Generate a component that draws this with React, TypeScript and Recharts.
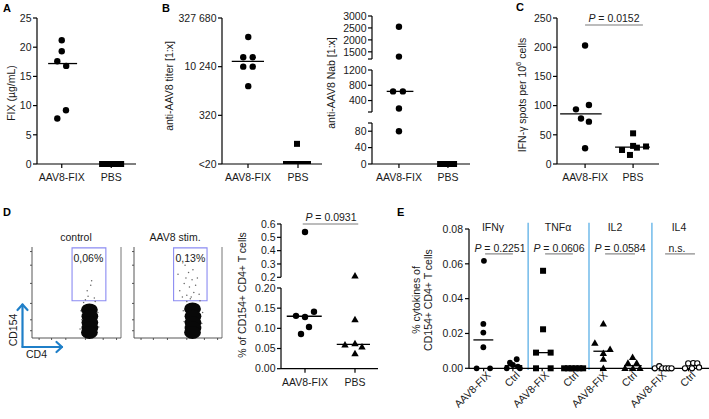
import React from 'react';
import { ScatterChart, Scatter, XAxis, YAxis, ReferenceLine, ReferenceArea } from 'recharts';

const FONT = '"Liberation Sans", Arial, Helvetica, sans-serif';

// ---------- shared categories ----------
const abGroups = ['AAV8-FIX', 'PBS'];
const eGroups = ['AAV8-FIX', 'Ctrl', 'AAV8-FIX', 'Ctrl', 'AAV8-FIX', 'Ctrl', 'AAV8-FIX', 'Ctrl'];
const eCytokines = ['IFNγ', 'TNFα', 'IL2', 'IL4'];

// ---------- Panel A: FIX (µg/mL) ----------
const fixAavY = [21.2, 19.3, 17.6, 16.8, 9.2, 7.8];
const fixAavX = [1.0, 1.0, 0.82, 1.18, 1.17, 0.82];
const fixPbsY = [0, 0, 0, 0, 0, 0];
const fixPbsX = [2.63, 2.79, 2.95, 3.11, 3.27, 3.4];
const fixMedian = 17.2;

// ---------- Panel B left: anti-AAV8 titer ----------
const titerTicks = [10, 320, 10240, 327680];
const titerAavY = [85000, 20000, 20000, 10240, 10240, 2560];
const titerAavX = [1.01, 0.81, 1.19, 0.81, 1.19, 1.01];
const titerPbsY = [42, 10, 10, 10, 10, 10];
const titerPbsX = [2.96, 2.52, 2.74, 2.96, 3.18, 3.4];
const titerMedian = 15000;

// ---------- Panel B right: anti-AAV8 Nab ----------
const nabAavY = [2550, 1300, 640, 640, 190, 80];
const nabAavX = [1.0, 1.0, 0.76, 1.16, 1.0, 1.0];
const nabPbsY = [0, 0, 0, 0, 0, 0];
const nabPbsX = [2.68, 2.8, 2.91, 3.02, 3.14, 3.25];
const nabMedian = 640;

// ---------- Panel C: IFN-γ spots ----------
const spotAavY = [203, 101, 93.6, 78, 72.5, 27];
const spotAavX = [1.0, 1.16, 0.62, 0.83, 1.16, 1.0];
const spotPbsY = [52.5, 24, 15.5, 28, 31, 30];
const spotPbsX = [3.0, 2.54, 2.87, 3.16, 3.0, 3.54];
const spotMedians = [85.8, 29];

// ---------- Panel D: flow plots ----------
const ctrlCloudX = [64.5, 65, 65, 65, 64.5];
const ctrlCloudY = [31, 24, 17, 11, 6];
const ctrlSparseX = [63, 62, 66, 70, 60, 67, 55, 74, 56, 73, 58, 71, 54, 75, 57, 72];
const ctrlSparseY = [46, 52, 58, 44, 42, 63, 30, 28, 20, 18, 39, 40, 10, 12, 3, 4];
const stimCloudX = [66.5, 67, 67, 67, 66.5];
const stimCloudY = [32, 24, 17, 11, 6];
const stimSparseX = [52, 57, 60, 63, 66, 68, 62, 58, 65, 70, 55, 72, 61, 64, 67, 59, 74, 50, 56, 78, 57, 77, 60, 75];
const stimSparseY = [52, 60, 47, 56, 64, 50, 72, 80, 45, 58, 45, 66, 90, 43, 75, 66, 48, 70, 30, 28, 18, 16, 40, 41];
const gatePct = ['0,06%', '0,13%'];

// ---------- Panel D: % CD154+ ----------
const cdAavY = [0.54, 0.131, 0.128, 0.141, 0.1035, 0.086];
const cdAavX = [1.0, 0.64, 1.0, 1.36, 1.16, 0.84];
const cdPbsY = [0.21, 0.1215, 0.059, 0.062, 0.054, 0.0374];
const cdPbsX = [3.0, 3.0, 2.6, 3.0, 3.28, 3.0];
const cdMedians = [0.13, 0.0605];

// ---------- Panel E: cytokines ----------
const ifnAavX = [0.51, 0.49, 0.49, 0.49, 0.26, 0.72];
const ifnAavY = [0.0617, 0.0255, 0.0205, 0.0121, 0, 0];
const ifnCtrlX = [1.29, 1.4, 1.5, 1.63, 1.67, 1.74];
const ifnCtrlY = [0, 0.0032, 0.0019, 0.0052, 0.001, 0];
const tnfAavX = [2.53, 2.53, 2.29, 2.79, 2.29, 2.79];
const tnfAavY = [0.056, 0.0224, 0.009, 0.009, 0, 0];
const tnfCtrlX = [3.25, 3.38, 3.51, 3.64, 3.77, 3.9];
const tnfCtrlY = [0, 0, 0, 0, 0, 0];
const il2AavX = [4.59, 4.3, 4.82, 4.59, 4.59, 4.59];
const il2AavY = [0.0255, 0.0144, 0.0109, 0.0086, 0.0053, 0];
const il2CtrlX = [5.59, 5.43, 5.73, 5.33, 5.6, 5.84];
const il2CtrlY = [0.0063, 0.0029, 0.0029, 0, 0, 0];
const il4AavX = [6.35, 6.5, 6.6, 6.72, 6.82, 6.92];
const il4AavY = [0, 0.0012, 0, 0, 0, 0];
const il4CtrlX = [7.38, 7.49, 7.62, 7.66, 7.8, 7.86];
const il4CtrlY = [0, 0.0028, 0, 0.003, 0.0028, 0.0005];
const eMedians = [0.0163, 0.0015, 0.009, 0, 0.0098, 0.0015, 0, 0.0005];

// ---------- helpers ----------
type Pt = { x: number; y: number };
const zip = (xs: number[], ys: number[]): Pt[] => xs.map((x, i) => ({ x, y: ys[i] }));
const inRange = (pts: Pt[], lo: number, hi: number) => pts.filter((p) => p.y >= lo && p.y <= hi);

const FS = 10.5;
const AX = { stroke: '#000', strokeWidth: 1.2 };
const TICK = { fontSize: FS, fill: '#1a1a1a', fontFamily: FONT };

const dot = (p: any) => <circle cx={p.cx} cy={p.cy} r={3.2} fill="#000" />;
const dotE = (p: any) => <circle cx={p.cx} cy={p.cy} r={2.9} fill="#000" />;
const openDot = (p: any) => <circle cx={p.cx} cy={p.cy} r={2.6} fill="#fff" stroke="#000" strokeWidth={1.1} />;
const square = (p: any) => <rect x={p.cx - 3} y={p.cy - 3} width={6} height={6} fill="#000" />;
const tri = (p: any) => (
  <polygon points={`${p.cx},${p.cy - 3.9} ${p.cx + 3.7},${p.cy + 2.6} ${p.cx - 3.7},${p.cy + 2.6}`} fill="#000" />
);
const blob = (p: any) => <ellipse cx={p.cx} cy={p.cy} rx={8.4} ry={6.4} fill="#080808" />;
const speck = (p: any) => <circle cx={p.cx} cy={p.cy} r={0.75} fill="#666" />;

function Box({ x, y, w, h, yw, mt = 8, mr = 8, xh = 0, children }: any) {
  const bottomPad = xh ? 0 : 8;
  return (
    <div style={{ position: 'absolute', left: x - yw, top: y - mt }}>
      <ScatterChart
        width={yw + w + mr}
        height={mt + h + (xh || 8)}
        margin={{ top: mt, right: mr, bottom: bottomPad, left: 0 }}
        style={{ overflow: 'visible' }}
      >
        {children}
      </ScatterChart>
    </div>
  );
}

const med = (x1: number, x2: number, y: number, key: string) => (
  <ReferenceLine
    key={key}
    segment={[{ x: x1, y }, { x: x2, y }]}
    stroke="#000"
    strokeWidth={1.3}
    ifOverflow="visible"
  />
);
const sig = (x1: number, x2: number, y: number, key: string) => (
  <ReferenceLine
    key={key}
    segment={[{ x: x1, y }, { x: x2, y }]}
    stroke="#7a7a7a"
    strokeWidth={1.1}
    ifOverflow="visible"
  />
);

const catTick = (centers: number[]) => (v: number) => {
  const i = centers.findIndex((c) => Math.abs(c - v) < 1e-6);
  return i >= 0 ? abGroups[i] : '';
};

const ETick = (props: any) => {
  const { x, y, payload, index } = props;
  return (
    <g transform={`translate(${x + 5},${y + 2})`}>
      <text x={0} y={0} dy="0.35em" textAnchor="end" transform="rotate(-45)" fontSize={FS} fill="#1a1a1a" fontFamily={FONT}>
        {eGroups[index] ?? payload.value}
      </text>
    </g>
  );
};

const titerLabel = (v: number) =>
  v === 10 ? '<20' : v >= 10000 ? v.toLocaleString('en-US').replace(/,/g, '\u00a0') : String(v);

function FlowPlot({ left, w, cloud, sparse }: any) {
  const ax = { stroke: '#444', strokeWidth: 0.9 };
  return (
    <Box x={left} y={247} w={w} h={91} yw={3} mt={3} mr={4} xh={4}>
      <XAxis type="number" dataKey="x" domain={[0, 100]} ticks={[8, 22, 38, 60, 80, 95]} tickFormatter={() => ''} axisLine={ax} tickLine={ax} tickSize={2} height={4} />
      <YAxis type="number" dataKey="y" domain={[0, 100]} ticks={[8, 20, 38, 60, 80, 95]} tickFormatter={() => ''} axisLine={ax} tickLine={ax} tickSize={2} width={3} />
      <ReferenceLine segment={[{ x: 100, y: 0 }, { x: 100, y: 100 }]} stroke="#666" strokeWidth={0.9} />
      <Scatter data={sparse} shape={speck} isAnimationActive={false} />
      <Scatter data={cloud} shape={blob} isAnimationActive={false} />
      <ReferenceArea x1={45} x2={83} y1={41} y2={99} stroke="#8b8bf2" strokeWidth={1.1} fill="none" fillOpacity={0} ifOverflow="visible" />
    </Box>
  );
}

export default function App() {
  const eCenters = [0.5, 1.5, 2.5, 3.5, 4.5, 5.5, 6.5, 7.5];
  const t = { fontFamily: FONT, fontSize: FS, fill: '#1a1a1a' } as any;
  const rot = (cx: number, cy: number, s: any, key: string) => (
    <text key={key} x={cx} y={cy} textAnchor="middle" dominantBaseline="central" transform={`rotate(-90 ${cx} ${cy})`} {...t}>
      {s}
    </text>
  );
  return (
    <div style={{ position: 'absolute', left: 0, top: 0, width: 709, height: 419, background: '#fff', overflow: 'hidden' }}>
      {/* Panel A */}
      <Box x={37} y={18} w={99} h={146} yw={37} mt={10} mr={6} xh={24}>
        <XAxis type="number" dataKey="x" domain={[0, 4]} ticks={[1, 3]} tickFormatter={catTick([1, 3])} axisLine={AX} tickLine={AX} tickSize={4} tickMargin={5.5} tick={TICK} height={24} interval={0} />
        <YAxis type="number" dataKey="y" domain={[0, 25]} ticks={[0, 5, 10, 15, 20, 25]} axisLine={AX} tickLine={AX} tickSize={4} tickMargin={1.5} tick={TICK} width={37} interval={0} />
        {med(0.45, 1.62, fixMedian, 'ma')}
        <Scatter data={zip(fixAavX, fixAavY)} shape={dot} isAnimationActive={false} />
        <Scatter data={zip(fixPbsX, fixPbsY)} shape={square} isAnimationActive={false} />
      </Box>

      {/* Panel B left */}
      <Box x={222} y={18} w={100} h={146} yw={56} mt={10} mr={6} xh={24}>
        <XAxis type="number" dataKey="x" domain={[-0.04, 3.96]} ticks={[1, 3]} tickFormatter={catTick([1, 3])} axisLine={AX} tickLine={AX} tickSize={4} tickMargin={5.5} tick={TICK} height={24} interval={0} />
        <YAxis type="number" dataKey="y" scale="log" domain={[10, 327680]} allowDataOverflow ticks={titerTicks} tickFormatter={titerLabel} axisLine={AX} tickLine={AX} tickSize={4} tickMargin={1.5} tick={TICK} width={56} interval={0} />
        {med(0.35, 1.64, titerMedian, 'mb')}
        <Scatter data={zip(titerAavX, titerAavY)} shape={dot} isAnimationActive={false} />
        <Scatter data={zip(titerPbsX, titerPbsY)} shape={square} isAnimationActive={false} />
      </Box>

      {/* Panel B right: broken axis, three segments */}
      <Box x={372} y={16} w={98} h={43} yw={34} mt={6} mr={6}>
        <XAxis type="number" dataKey="x" domain={[-0.1, 3.9]} hide />
        <YAxis type="number" dataKey="y" domain={[1200, 3000]} ticks={[1200, 1500, 2000, 2500, 3000]} tickFormatter={(v: number) => (v === 1200 ? '' : String(v))} axisLine={AX} tickLine={AX} tickSize={4} tickMargin={1.5} tick={TICK} width={34} interval={0} />
        <Scatter data={inRange(zip(nabAavX, nabAavY), 1200, 3000)} shape={dot} isAnimationActive={false} />
      </Box>
      <Box x={372} y={70} w={98} h={42} yw={34} mt={6} mr={6}>
        <XAxis type="number" dataKey="x" domain={[-0.1, 3.9]} hide />
        <YAxis type="number" dataKey="y" domain={[100, 1200]} ticks={[100, 400, 800, 1200]} tickFormatter={(v: number) => (v === 100 ? '' : String(v))} axisLine={AX} tickLine={AX} tickSize={4} tickMargin={1.5} tick={TICK} width={34} interval={0} />
        {med(0.5, 1.59, nabMedian, 'mn')}
        <Scatter data={inRange(zip(nabAavX, nabAavY), 100, 1199)} shape={dot} isAnimationActive={false} />
      </Box>
      <Box x={372} y={123} w={98} h={41} yw={34} mt={6} mr={6} xh={24}>
        <XAxis type="number" dataKey="x" domain={[-0.1, 3.9]} ticks={[1, 3]} tickFormatter={catTick([1, 3])} axisLine={AX} tickLine={AX} tickSize={4} tickMargin={5.5} tick={TICK} height={24} interval={0} />
        <YAxis type="number" dataKey="y" domain={[0, 100]} ticks={[0, 40, 80, 100]} tickFormatter={(v: number) => (v === 100 ? '' : String(v))} axisLine={AX} tickLine={AX} tickSize={4} tickMargin={1.5} tick={TICK} width={34} interval={0} />
        <Scatter data={inRange(zip(nabAavX, nabAavY), 0, 99)} shape={dot} isAnimationActive={false} />
        <Scatter data={zip(nabPbsX, nabPbsY)} shape={square} isAnimationActive={false} />
      </Box>

      {/* Panel C */}
      <Box x={557} y={18} w={102} h={146} yw={36} mt={10} mr={6} xh={24}>
        <XAxis type="number" dataKey="x" domain={[-0.17, 4.08]} ticks={[1, 3]} tickFormatter={catTick([1, 3])} axisLine={AX} tickLine={AX} tickSize={4} tickMargin={5.5} tick={TICK} height={24} interval={0} />
        <YAxis type="number" dataKey="y" domain={[0, 250]} ticks={[0, 50, 100, 150, 200, 250]} axisLine={AX} tickLine={AX} tickSize={4} tickMargin={1.5} tick={TICK} width={36} interval={0} />
        {med(-0.04, 1.69, spotMedians[0], 'mc1')}
        {med(2.25, 3.7, spotMedians[1], 'mc2')}
        {sig(1.0, 3.41, 238, 'sc')}
        <Scatter data={zip(spotAavX, spotAavY)} shape={dot} isAnimationActive={false} />
        <Scatter data={zip(spotPbsX, spotPbsY)} shape={square} isAnimationActive={false} />
      </Box>

      {/* Panel D flow plots */}
      <FlowPlot left={32} w={89} cloud={zip(ctrlCloudX, ctrlCloudY)} sparse={zip(ctrlSparseX, ctrlSparseY)} />
      <FlowPlot left={134} w={88} cloud={zip(stimCloudX, stimCloudY)} sparse={zip(stimSparseX, stimSparseY)} />

      {/* Panel D scatter: broken axis */}
      <Box x={281} y={224} w={97} h={53.3} yw={30} mt={10} mr={6}>
        <XAxis type="number" dataKey="x" domain={[0.04, 3.92]} hide />
        <YAxis type="number" dataKey="y" domain={[0.2, 0.6]} ticks={[0.2, 0.3, 0.4, 0.5, 0.6]} tickFormatter={(v: number) => v.toFixed(1)} axisLine={AX} tickLine={AX} tickSize={4} tickMargin={1.5} tick={TICK} width={30} interval={0} />
        {sig(0.91, 3.13, 0.6, 'sd')}
        <Scatter data={inRange(zip(cdAavX, cdAavY), 0.2, 0.6)} shape={dot} isAnimationActive={false} />
        <Scatter data={inRange(zip(cdPbsX, cdPbsY), 0.2, 0.6)} shape={tri} isAnimationActive={false} />
      </Box>
      <Box x={281} y={288.3} w={97} h={80.7} yw={30} mt={6} mr={6} xh={24}>
        <XAxis type="number" dataKey="x" domain={[0.04, 3.92]} ticks={[1, 3]} tickFormatter={catTick([1, 3])} axisLine={AX} tickLine={AX} tickSize={4} tickMargin={5.5} tick={TICK} height={24} interval={0} />
        <YAxis type="number" dataKey="y" domain={[0, 0.2]} ticks={[0, 0.05, 0.1, 0.15, 0.2]} tickFormatter={(v: number) => v.toFixed(2)} axisLine={AX} tickLine={AX} tickSize={4} tickMargin={1.5} tick={TICK} width={30} interval={0} />
        {med(0.27, 1.67, cdMedians[0], 'md1')}
        {med(2.27, 3.6, cdMedians[1], 'md2')}
        <Scatter data={inRange(zip(cdAavX, cdAavY), 0, 0.1999)} shape={dot} isAnimationActive={false} />
        <Scatter data={inRange(zip(cdPbsX, cdPbsY), 0, 0.1999)} shape={tri} isAnimationActive={false} />
      </Box>

      {/* Panel E */}
      <Box x={469} y={229} w={240} h={139.3} yw={36} mt={10} mr={0} xh={50}>
        <XAxis type="number" dataKey="x" domain={[0, 8.2]} ticks={eCenters} tick={<ETick />} axisLine={AX} tickLine={AX} tickSize={3} tickMargin={0} height={50} interval={0} />
        <YAxis type="number" dataKey="y" domain={[0, 0.08]} ticks={[0, 0.02, 0.04, 0.06, 0.08]} tickFormatter={(v: number) => v.toFixed(2)} axisLine={AX} tickLine={AX} tickSize={4} tickMargin={2} tick={TICK} width={36} interval={0} />
        {[2.02, 4.1, 6.25].map((sx, i) => (
          <ReferenceLine key={'sep' + i} segment={[{ x: sx, y: -0.001 }, { x: sx, y: 0.0836 }]} stroke="#4ea9e4" strokeWidth={1.2} ifOverflow="visible" />
        ))}
        {med(0.15, 0.83, eMedians[0], 'me0')}
        {med(1.22, 1.82, eMedians[1], 'me1')}
        {med(2.29, 2.79, eMedians[2], 'me2')}
        {med(4.25, 4.87, eMedians[4], 'me4')}
        {med(5.3, 5.9, eMedians[5], 'me5')}
        {sig(0.55, 1.5, 0.0657, 'se0')}
        {sig(2.6, 3.55, 0.0657, 'se1')}
        {sig(4.65, 5.67, 0.0657, 'se2')}
        {sig(6.7, 7.72, 0.0657, 'se3')}
        <Scatter data={zip(ifnAavX, ifnAavY)} shape={dotE} isAnimationActive={false} />
        <Scatter data={zip(ifnCtrlX, ifnCtrlY)} shape={dotE} isAnimationActive={false} />
        <Scatter data={zip(tnfAavX, tnfAavY)} shape={square} isAnimationActive={false} />
        <Scatter data={zip(tnfCtrlX, tnfCtrlY)} shape={square} isAnimationActive={false} />
        <Scatter data={zip(il2AavX, il2AavY)} shape={tri} isAnimationActive={false} />
        <Scatter data={zip(il2CtrlX, il2CtrlY)} shape={tri} isAnimationActive={false} />
        <Scatter data={zip(il4AavX, il4AavY)} shape={openDot} isAnimationActive={false} />
        <Scatter data={zip(il4CtrlX, il4CtrlY)} shape={openDot} isAnimationActive={false} />
      </Box>

      {/* Text overlay */}
      <svg width={709} height={419} style={{ position: 'absolute', left: 0, top: 0, pointerEvents: 'none' }}>
        <g fontFamily={FONT} fontWeight="bold" fontSize={11} fill="#000">
          <text x={3} y={12}>A</text>
          <text x={162} y={12}>B</text>
          <text x={516} y={11}>C</text>
          <text x={3} y={216}>D</text>
          <text x={397} y={216}>E</text>
        </g>
        {rot(11, 93, 'FIX (µg/mL)', 'ya')}
        {rot(169, 86, 'anti-AAV8 titer [1:x]', 'yb1')}
        {rot(331, 83, 'anti-AAV8 Nab [1:x]', 'yb2')}
        {rot(522, 95, <>IFN-γ spots per 10<tspan fontSize={7.5} dy={-4}>6</tspan><tspan dy={4}> cells</tspan></>, 'yc')}
        {rot(242, 295, '% of CD154+ CD4+ T cells', 'yd')}
        {rot(416, 300, '% cytokines of', 'ye1')}
        {rot(428, 300, 'CD154+ CD4+ T cells', 'ye2')}

        <text x={614} y={22} textAnchor="middle" {...t}><tspan fontStyle="italic">P</tspan> = 0.0152</text>
        <text x={331} y={220.5} textAnchor="middle" {...t}><tspan fontStyle="italic">P</tspan> = 0.0931</text>
        <text x={500} y={252} textAnchor="middle" {...t}><tspan fontStyle="italic">P</tspan> = 0.2251</text>
        <text x={559} y={252} textAnchor="middle" {...t}><tspan fontStyle="italic">P</tspan> = 0.0606</text>
        <text x={620} y={252} textAnchor="middle" {...t}><tspan fontStyle="italic">P</tspan> = 0.0584</text>
        <text x={677} y={252} textAnchor="middle" {...t}>n.s.</text>

        {eCytokines.map((c, i) => (
          <text key={c} x={[493, 558, 615, 679][i]} y={231} textAnchor="middle" {...t}>{c}</text>
        ))}

        <text x={76} y={241} textAnchor="middle" {...t}>control</text>
        <text x={175} y={241} textAnchor="middle" {...t}>AAV8 stim.</text>
        <text x={73.5} y={262} {...t}>{gatePct[0]}</text>
        <text x={175.5} y={262} {...t}>{gatePct[1]}</text>

        <g stroke="#1f7fc8" strokeWidth={2.2} fill="none" strokeLinecap="round" strokeLinejoin="round">
          <polyline points="22.5,347 22.5,304.5" />
          <polyline points="17.5,310 22.5,304.5 27.5,310" />
          <polyline points="22.5,347 62,347" />
          <polyline points="56.5,342 62,347 56.5,352" />
        </g>
        {rot(12.5, 330, 'CD154', 'cd154')}
        <text x={26} y={358} {...t}>CD4</text>
      </svg>
    </div>
  );
}
